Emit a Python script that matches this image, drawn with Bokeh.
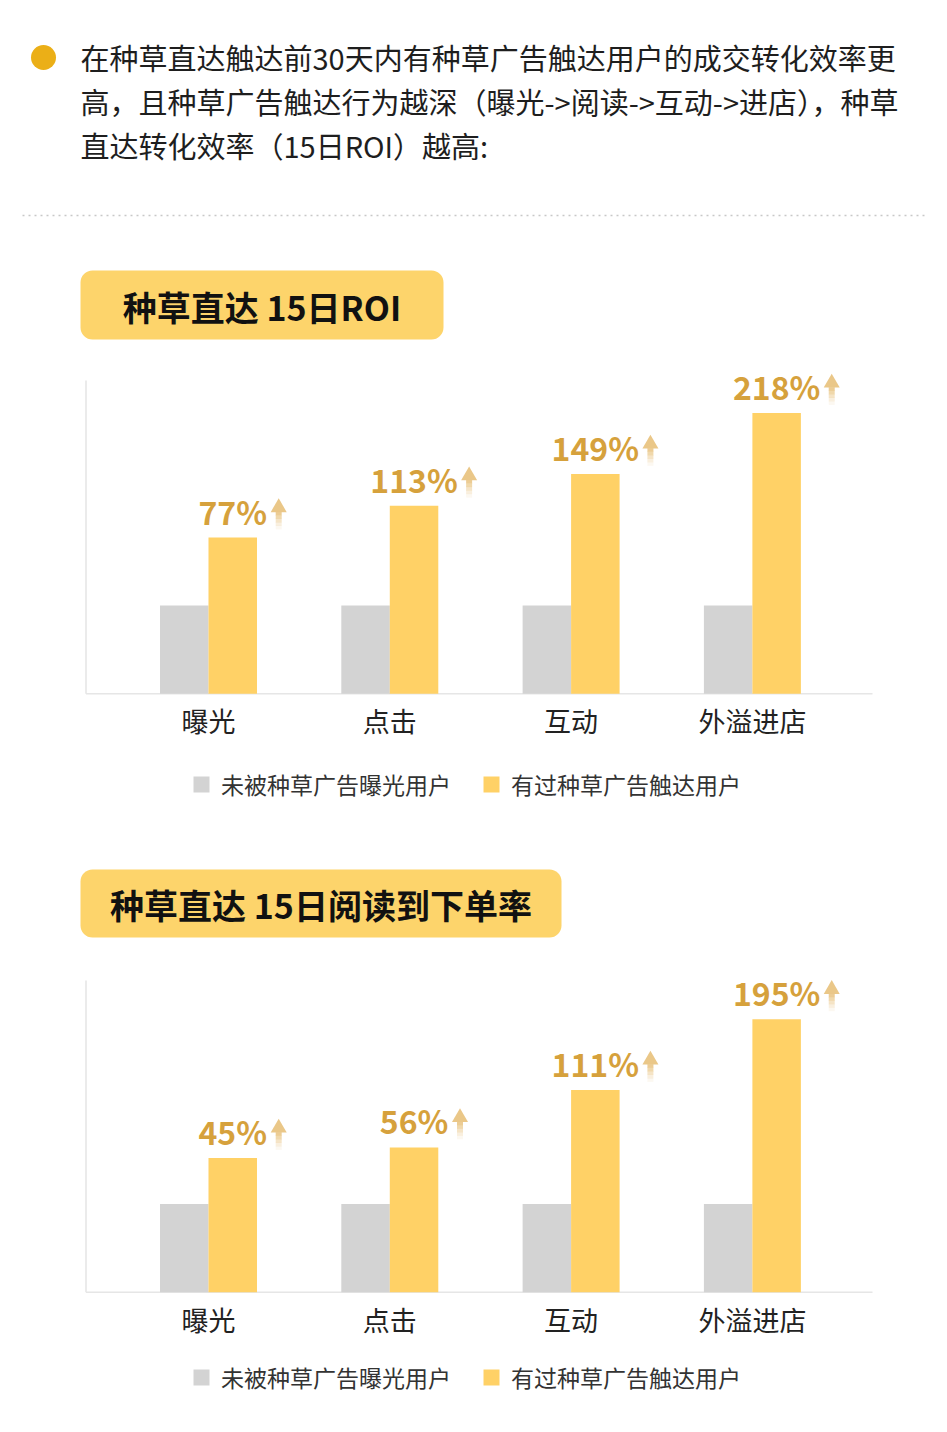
from bokeh.plotting import figure
from bokeh.models import (Range1d, ColumnDataSource, Legend, LegendItem, BoxAnnotation)
from bokeh.core.properties import value
from bokeh.embed import file_html
from bokeh.resources import INLINE

# ---------------- data ----------------
intro_lines = [
    "在种草直达触达前30天内有种草广告触达用户的成交转化效率更",
    "高，且种草广告触达行为越深（曝光->阅读->互动->进店），种草",
    "直达转化效率（15日ROI）越高:",
]
chart_titles = ["种草直达 15日ROI", "种草直达 15日阅读到下单率"]
categories = ["曝光", "点击", "互动", "外溢进店"]
legend_labels = ["未被种草广告曝光用户", "有过种草广告触达用户"]

roi_unexposed = [1.0, 1.0, 1.0, 1.0]
roi_seeded = [1.77, 2.13, 2.49, 3.18]
roi_lift = ["77%", "113%", "149%", "218%"]

order_unexposed = [1.0, 1.0, 1.0, 1.0]
order_seeded = [1.52, 1.64, 2.29, 3.09]
order_lift = ["45%", "56%", "111%", "195%"]

# ---------------- style / layout ----------------
CJK = "Noto Sans CJK SC"
GREY = "#D3D3D3"
YELLOW = "#FFD166"
BADGE = "#FDD46B"
GOLD = "#D6A13C"
ARROW = "#EAC788"
AXIS = "#E6E6E6"
W, H = 940, 1425
X0 = 208.0        # centre of first category group (px)
GAP = 181.3       # px between category groups
PPU = 88.3        # px per value unit
BAR_W = 0.2675    # bar width in category units
OFF = 0.1337      # half-offset of the two bars
AX_LEFT, AX_RIGHT = 85.5, 872.0
LABEL_PX = 32

p = figure(width=W, height=H, x_range=Range1d(0, W), y_range=Range1d(H, 0),
           x_axis_location=None, y_axis_location=None, min_border=0,
           toolbar_location=None, output_backend="svg")
p.grid.visible = False
p.outline_line_color = None
p.extra_x_ranges = {"cat": Range1d(-X0 / GAP, (W - X0) / GAP)}


def badge(left, right, top, bottom, text, size):
    p.add_layout(BoxAnnotation(left=left, right=right, top=top, bottom=bottom,
                               fill_color=BADGE, fill_alpha=1.0, line_color=None,
                               border_radius=12, level="underlay"))
    p.text(x=[(left + right) / 2], y=[(top + bottom) / 2 + 1], text=[text],
           text_align="center", text_baseline="middle", text_font=value(CJK),
           text_font_style="bold", text_font_size=size, text_color="#111111")


def chart(name, base_px, line_top_px, unexposed, seeded, lifts, legend_mid_px):
    p.extra_y_ranges[name] = Range1d((base_px - H) / PPU, base_px / PPU)
    kw = dict(x_range_name="cat", y_range_name=name)
    idx = list(range(len(categories)))

    # axis lines
    xl = (AX_LEFT - X0) / GAP
    xr = (AX_RIGHT - X0) / GAP
    p.segment(x0=[xl, xl], y0=[0, 0], x1=[xr, xl], y1=[0, (base_px - line_top_px) / PPU],
              line_color=AXIS, line_width=1.6, **kw)

    src = ColumnDataSource(dict(
        cat=categories, base=unexposed, seeded=seeded, lift=lifts,
        xg=[i - OFF for i in idx], xy=[i + OFF for i in idx], xc=idx,
        zero=[0] * len(idx)))
    r0 = p.vbar(x="xg", top="base", bottom="zero", width=BAR_W, source=src,
                fill_color=GREY, line_color=None, **kw)
    r1 = p.vbar(x="xy", top="seeded", bottom="zero", width=BAR_W, source=src,
                fill_color=YELLOW, line_color=None, **kw)

    # category labels under the axis
    p.text(x="xc", y="zero", text="cat", source=src, y_offset=27, text_align="center",
           text_baseline="middle", text_font=value(CJK), text_font_size="27px",
           text_color="#222222", **kw)

    # lift labels
    p.text(x="xy", y="seeded", text="lift", source=src, y_offset=-4,
           text_align="center", text_baseline="bottom", text_font=value(CJK),
           text_font_style="bold", text_font_size=f"{LABEL_PX}px", text_color=GOLD, **kw)

    # fading arrows right of each label
    ax, ay, sx, sy, sa = [], [], [], [], []
    steps = [24, 20.5, 17, 13.5, 10]
    alphas = [0.9, 0.7, 0.48, 0.28, 0.12]
    for i, v, lab in zip(idx, seeded, lifts):
        half = ((len(lab) - 1) * 0.57 + 0.92) * LABEL_PX / 2
        xa = i + OFF + (half + 13) / GAP
        ax.append(xa)
        ay.append(v + 30 / PPU)
        for s, a in zip(steps, alphas):
            sx.append(xa)
            sy.append(v + s / PPU)
            sa.append(a)
    p.scatter(x=ax, y=ay, marker="triangle", size=16, fill_color=ARROW,
              line_color=None, **kw)
    p.rect(x=sx, y=sy, width=6, height=3.8, width_units="screen", height_units="screen",
           fill_color=ARROW, fill_alpha=sa, line_color=None, **kw)

    legend = Legend(items=[LegendItem(label=legend_labels[0], renderers=[r0]),
                           LegendItem(label=legend_labels[1], renderers=[r1])],
                    orientation="horizontal", location=(191, H - legend_mid_px - 14),
                    glyph_width=20, glyph_height=20, label_standoff=10, spacing=30,
                    padding=0, margin=0, label_height=28,
                    label_text_font=CJK, label_text_font_size="23px",
                    label_text_color="#333333", border_line_color=None,
                    background_fill_alpha=0)
    p.add_layout(legend)


# ---------------- header ----------------
p.scatter(x=[43], y=[57], size=25, marker="circle", fill_color="#EBAF17", line_color=None)
p.text(x=[80, 80, 80], y=[56, 100, 144], text=intro_lines, text_baseline="middle",
       text_font=value(CJK), text_font_size="29px", text_color="#1E1E1E")
p.segment(x0=[22], y0=[215], x1=[926], y1=[215], line_color="#C8C8C8",
          line_width=1.5, line_dash="2 4")

badge(80, 443, 270, 339, chart_titles[0], "34px")
chart("roi", 693.3, 380, roi_unexposed, roi_seeded, roi_lift, 787)

badge(80, 561, 869, 937, chart_titles[1], "34px")
chart("ord", 1291.7, 980, order_unexposed, order_seeded, order_lift, 1380)

open("out.html", "w").write(file_html(p, INLINE))
